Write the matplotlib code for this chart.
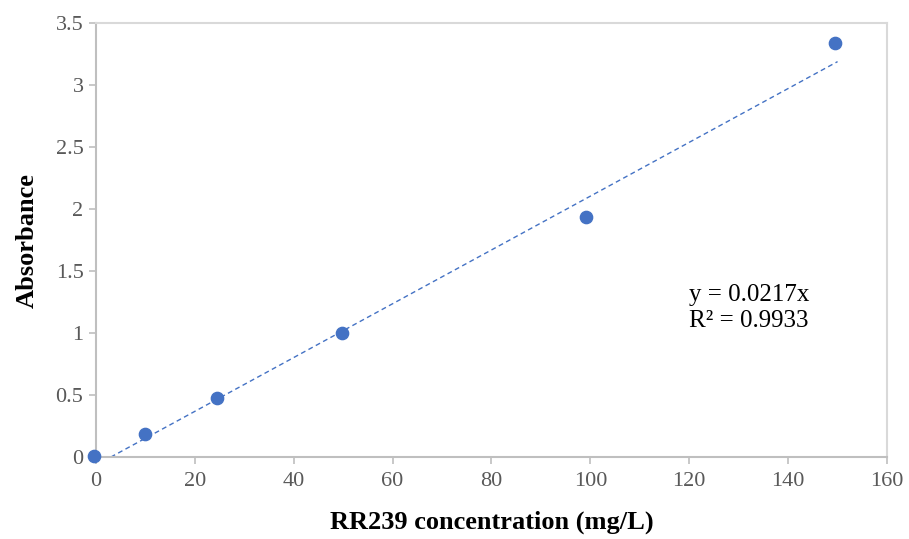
import matplotlib.pyplot as plt

plt.rcParams['font.family'] = ['Liberation Serif', 'DejaVu Serif']

# Calibration data
conc = [-0.4, 9.9, 24.4, 49.7, 99.2, 149.4]
absorbance = [0.01, 0.19, 0.48, 1.00, 1.94, 3.34]

# Excel linear trendline as drawn
slope = 0.0217
trend_start = 3.0
trend_end = 150.0
r_squared = 0.9933

x_ticks = [0, 20, 40, 60, 80, 100, 120, 140, 160]
y_ticks = [0, 0.5, 1, 1.5, 2, 2.5, 3, 3.5]
y_tick_labels = ['0', '0.5', '1', '1.5', '2', '2.5', '3', '3.5']

fig = plt.figure(figsize=(9.09, 5.39), dpi=100)
ax = fig.add_axes([0.1056, 0.152, 0.8702, 0.805])

ax.scatter(conc, absorbance, s=78, color='#4472C4', zorder=3, clip_on=False)

tx = [trend_start, trend_end]
ty = [slope * (x - trend_start) for x in tx]
ax.plot(tx, ty, linestyle=(0, (3.5, 2.5)), color='#4472C4', linewidth=1.0)

ax.text(120, 1.40, f'y = {slope}x\nR² = {r_squared}', fontsize=18,
        va='top', ha='left', linespacing=1.25)

ax.set_xlim(0, 160)
ax.set_ylim(0, 3.5)
ax.set_xticks(x_ticks)
ax.set_yticks(y_ticks)
ax.set_yticklabels(y_tick_labels)
ax.tick_params(axis='both', direction='out', length=5, width=1.2,
               color='#bfbfbf', labelcolor='#595959', labelsize=16)
ax.tick_params(axis='y', pad=4)
ax.tick_params(axis='x', pad=6)

for side in ['left', 'bottom']:
    ax.spines[side].set_color('#bfbfbf')
    ax.spines[side].set_linewidth(1.5)
for side in ['top', 'right']:
    ax.spines[side].set_color('#d9d9d9')
    ax.spines[side].set_linewidth(1.5)

ax.set_xlabel('RR239 concentration (mg/L)', fontsize=19, fontweight='bold', labelpad=14)
ax.set_ylabel('Absorbance', fontsize=19, fontweight='bold', labelpad=12)

fig.savefig('out.png', dpi=100)
